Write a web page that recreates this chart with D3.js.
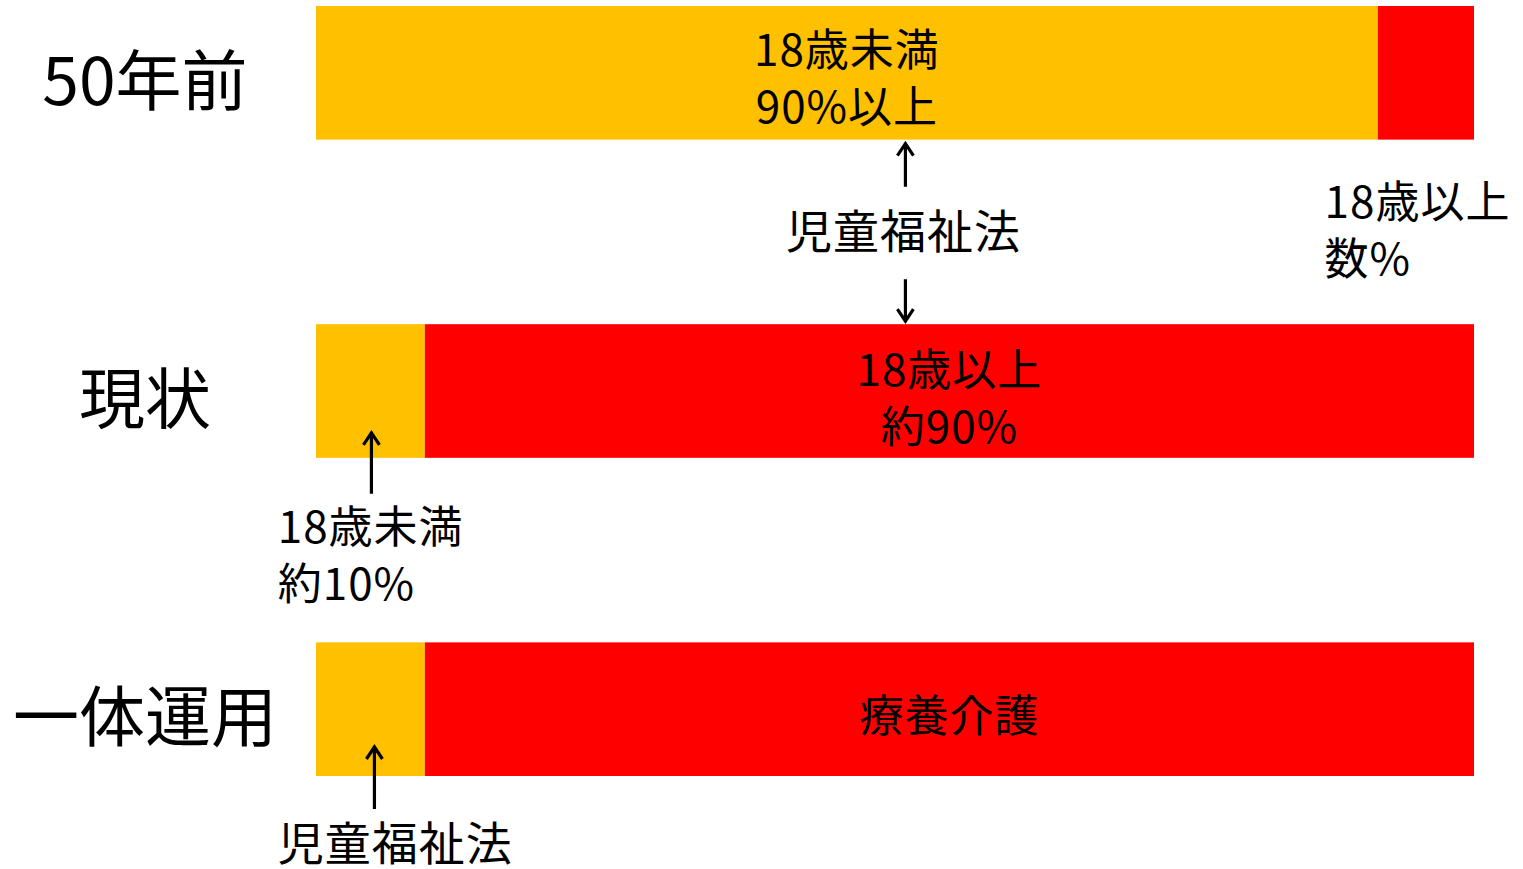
<!DOCTYPE html>
<html>
<head>
<meta charset="utf-8">
<script src="https://cdn.jsdelivr.net/npm/d3@7"></script>
<style>
  body { margin: 0; background: #fff; }
  text { font-family: "Noto Sans CJK JP", "Noto Sans", sans-serif; fill: #000; }
</style>
</head>
<body>
<div id="chart"></div>
<script>
(function(){

  var width = 1523;
  var height = 869;

  // rows and their shares (percent)
  var periods = ['50年前', '現状', '一体運用'];
  var under18 = [91.7, 9.4, 9.4];
  var over18 = [8.3, 90.6, 90.6];

  // text inside the bars
  var innerLabels = [
    {row: 0, seg: 'under', lines: ['18歳未満', '90%以上']},
    {row: 1, seg: 'over', lines: ['18歳以上', '約90%']},
    {row: 2, seg: 'over', lines: ['療養介護']}
  ];

  var colors = {under: '#FFC000', over: '#FF0000'};

  var rows = periods.map(function(p, i){
    return {period: p, under: under18[i], over: over18[i]};
  });

  var stack = d3.stack().keys(['under', 'over']);
  var series = stack(rows);

  var svg = d3.select('#chart')
      .append('svg')
      .attr('width', width)
      .attr('height', height);

  var x = d3.scaleLinear()
      .domain([0, 100])
      .range([316, 1474]);

  var y = d3.scaleBand()
      .domain(periods)
      .range([6, 776])
      .paddingInner(0.58)
      .paddingOuter(0);

  var bh = y.bandwidth();

  svg.selectAll('g.series')
    .data(series)
    .enter()
    .append('g')
      .attr('class', 'series')
      .attr('fill', function(d){ return colors[d.key]; })
    .selectAll('rect')
    .data(function(d){ return d; })
    .enter()
    .append('rect')
      .attr('x', function(d){ return x(d[0]); })
      .attr('y', function(d){ return y(d.data.period); })
      .attr('width', function(d){ return x(d[1]) - x(d[0]); })
      .attr('height', bh);

  // row labels on the left
  svg.selectAll('text.period')
    .data(periods)
    .enter()
    .append('text')
      .attr('class', 'period')
      .attr('x', 145)
      .attr('y', function(d){ return y(d) + bh / 2 + 3; })
      .attr('text-anchor', 'middle')
      .attr('dominant-baseline', 'central')
      .attr('font-size', '66px')
      .text(function(d){ return d; });

  var lineGap = 57;

  // helper for multiline text
  var multiText = function(g, lines, xPos, yMid, anchor, size){
    var t = g.append('text')
        .attr('text-anchor', anchor)
        .attr('font-size', size + 'px')
        .attr('letter-spacing', '1px');
    var off = (lines.length - 1) * lineGap / 2;
    lines.forEach(function(l, i){
      t.append('tspan')
        .attr('x', xPos)
        .attr('y', yMid - off + i * lineGap)
        .attr('dominant-baseline', 'central')
        .text(l);
    });
    return t;
  };

  innerLabels.forEach(function(lb){
    var r = rows[lb.row];
    var cx = lb.seg === 'under' ? x(r.under / 2) : x(r.under + r.over / 2);
    var cy = y(r.period) + bh / 2 + (lb.row === 0 ? 3 : 4);
    multiText(svg, lb.lines, cx, cy, 'middle', 44);
  });

  // arrows: shaft from y0 to the tip at y1, open chevron head
  var arrow = function(x0, y0, y1){
    var dir = y1 < y0 ? 1 : -1;
    var path = d3.path();
    path.moveTo(x0, y0);
    path.lineTo(x0, y1);
    path.moveTo(x0 - 8, y1 + dir * 13);
    path.lineTo(x0, y1 + dir * 1);
    path.lineTo(x0 + 8, y1 + dir * 13);
    svg.append('path')
      .attr('d', path.toString())
      .attr('fill', 'none')
      .attr('stroke', '#000')
      .attr('stroke-width', 3.2);
  };

  var b0 = y(periods[0]) + bh;
  var t1 = y(periods[1]);
  var b1 = y(periods[1]) + bh;
  var b2 = y(periods[2]) + bh;

  // 50年前 / 現状 boundary annotation
  var midX = x(50.9);
  arrow(midX, b0 + 47, b0 + 3);
  multiText(svg, ['児童福祉法'], midX - 2, (b0 + t1) / 2 - 4, 'middle', 46);
  arrow(midX, t1 - 45, t1 - 2);

  // 18歳以上 数%
  multiText(svg, ['18歳以上', '数%'], x(87.1), b0 + 88, 'start', 44);

  // 現状 under 18
  var ax = x(under18[1] / 2) + 1;
  arrow(ax, b1 + 36, b1 - 26);
  multiText(svg, ['18歳未満', '約10%'], x(-3.3), b1 + 95, 'start', 44);

  // 一体運用 under 18
  arrow(ax + 3, b2 + 33, b2 - 30);
  multiText(svg, ['児童福祉法'], x(-3.3), b2 + 64, 'start', 46);

})();
</script>
</body>
</html>
